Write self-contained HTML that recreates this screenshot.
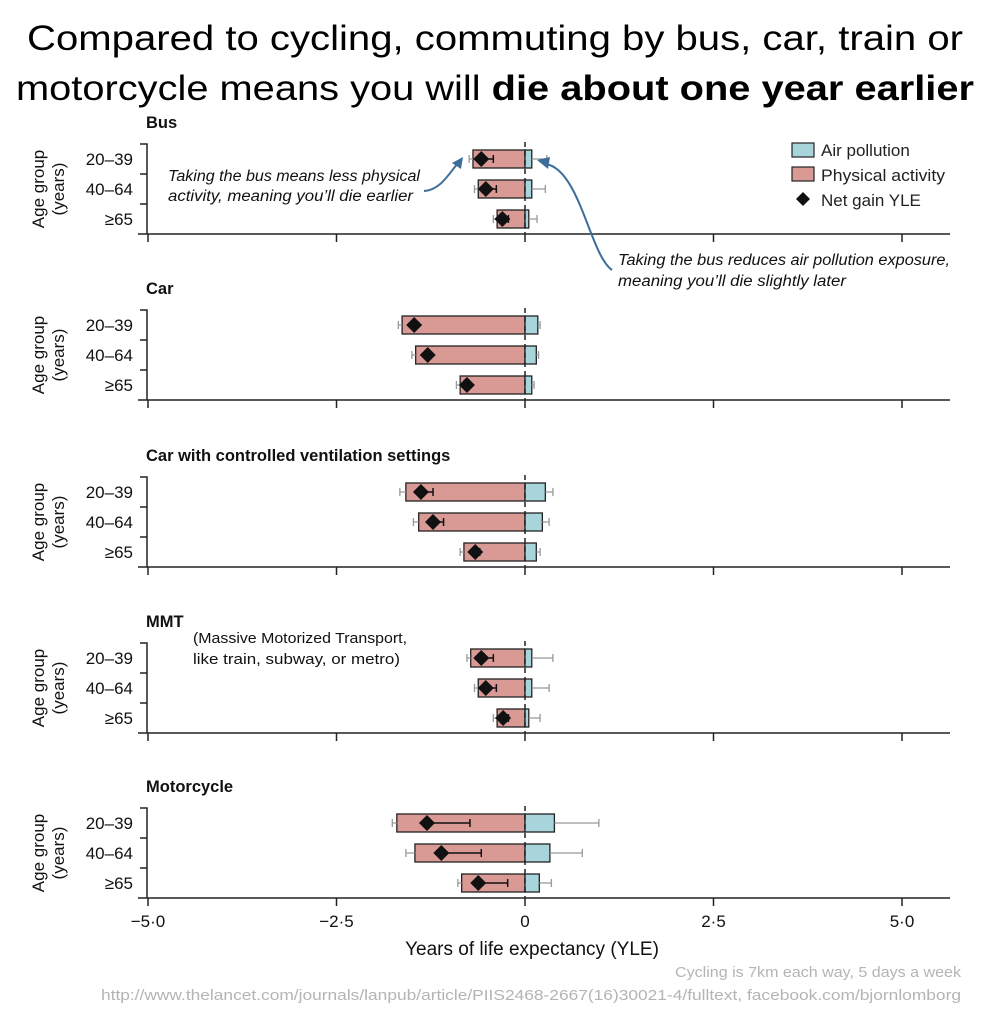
<!DOCTYPE html>
<html><head><meta charset="utf-8"><style>
html,body{margin:0;padding:0;background:#fff;}
svg{display:block;font-family:"Liberation Sans",sans-serif;}
</style></head><body>
<svg id="chart" width="993" height="1017" viewBox="0 0 993 1017" xmlns="http://www.w3.org/2000/svg">
<text x="495" y="50" text-anchor="middle" font-size="35" textLength="936" lengthAdjust="spacingAndGlyphs">Compared to cycling, commuting by bus, car, train or</text>
<text x="495" y="100" text-anchor="middle" font-size="35" textLength="958" lengthAdjust="spacingAndGlyphs">motorcycle means you will <tspan font-weight="bold">die about one year earlier</tspan></text>
<g id="panels"></g>
<g>
<rect x="792" y="143" width="22" height="14" fill="#a8d5dc" stroke="#222" stroke-width="1.2"/>
<text x="821" y="156" font-size="17" fill="#222">Air pollution</text>
<rect x="792" y="167" width="22" height="14" fill="#d99a96" stroke="#222" stroke-width="1.2"/>
<text x="821" y="181" font-size="17" fill="#222" textLength="124" lengthAdjust="spacingAndGlyphs">Physical activity</text>
<polygon points="803,192 810,199 803,206 796,199" fill="#111"/>
<text x="821" y="206" font-size="17" fill="#222">Net gain YLE</text>
</g>
<text font-size="15.5" font-style="italic" fill="#111"><tspan x="168" y="181" textLength="252" lengthAdjust="spacingAndGlyphs">Taking the bus means less physical</tspan><tspan x="168" y="201" textLength="245" lengthAdjust="spacingAndGlyphs">activity, meaning you’ll die earlier</tspan></text>
<path d="M424,191 C440,190 448,175 458,163" fill="none" stroke="#3d6e9a" stroke-width="2"/>
<polygon points="463,157 461,169 452,163" fill="#3d6e9a"/>
<text font-size="15.5" font-style="italic" fill="#111"><tspan x="618" y="265" textLength="332" lengthAdjust="spacingAndGlyphs">Taking the bus reduces air pollution exposure,</tspan><tspan x="618" y="286" textLength="228" lengthAdjust="spacingAndGlyphs">meaning you’ll die slightly later</tspan></text>
<path d="M612,270 C590,255 580,170 546,164" fill="none" stroke="#3d6e9a" stroke-width="2"/>
<polygon points="537,160 550,157 548,169" fill="#3d6e9a"/>
<text font-size="15" fill="#111"><tspan x="193" y="643" textLength="214" lengthAdjust="spacingAndGlyphs">(Massive Motorized Transport,</tspan><tspan x="193" y="664" textLength="207" lengthAdjust="spacingAndGlyphs">like train, subway, or metro)</tspan></text>
<text x="532" y="955" text-anchor="middle" font-size="19" fill="#111">Years of life expectancy (YLE)</text>
<text x="961" y="977" text-anchor="end" font-size="15" fill="#b4b4b4" textLength="286" lengthAdjust="spacingAndGlyphs">Cycling is 7km each way, 5 days a week</text>
<text x="961" y="1000" text-anchor="end" font-size="15" fill="#b4b4b4" textLength="860" lengthAdjust="spacingAndGlyphs">http://www.thelancet.com/journals/lanpub/article/PIIS2468-2667(16)30021-4/fulltext, facebook.com/bjornlomborg</text>
</svg>
<script>
const panelNames = ["Bus","Car","Car with controlled ventilation settings","MMT","Motorcycle"];
const ageGroups = ["20–39","40–64","≥65"];
const physActivity = [[-0.69,-0.62,-0.37],[-1.63,-1.45,-0.86],[-1.58,-1.41,-0.81],[-0.72,-0.62,-0.37],[-1.70,-1.46,-0.84]];
const physErr = [[0.05,0.05,0.05],[0.05,0.05,0.05],[0.08,0.07,0.05],[0.05,0.05,0.05],[0.06,0.12,0.05]];
const airPollution = [[0.09,0.09,0.05],[0.17,0.15,0.09],[0.27,0.23,0.15],[0.09,0.09,0.05],[0.39,0.33,0.19]];
const airErrHi = [[0.29,0.27,0.16],[0.2,0.18,0.12],[0.37,0.32,0.2],[0.37,0.32,0.2],[0.98,0.76,0.35]];
const netGain = [[-0.58,-0.52,-0.30],[-1.47,-1.29,-0.77],[-1.38,-1.22,-0.66],[-0.58,-0.52,-0.29],[-1.30,-1.11,-0.62]];
const netHi = [[-0.42,-0.38,-0.22],[-1.45,-1.27,-0.74],[-1.22,-1.08,-0.6],[-0.42,-0.38,-0.22],[-0.73,-0.58,-0.23]];
const xTicks = [-5,-2.5,0,2.5,5];
const xTickLabels = ["−5·0","−2·5","0","2·5","5·0"];

const NS="http://www.w3.org/2000/svg";
const X0=148, X1=902;
function xs(v){return X0+(v+5)/10*(X1-X0);}
const axisY=[234,400,567,733,898];
const g=document.getElementById('panels');
function mk(tag,attrs,parent){const e=document.createElementNS(NS,tag);for(const k in attrs)e.setAttribute(k,attrs[k]);(parent||g).appendChild(e);return e;}

panelNames.forEach((name,p)=>{
  const ay=axisY[p];
  const pg=mk('g',{});
  
  
  const t=mk('text',{x:146,y:ay-106,'font-size':16.5,'font-weight':'bold',fill:'#111'},pg);t.textContent=name;
  
  
  const yt=mk('text',{transform:`translate(44,${ay-45}) rotate(-90)`,'text-anchor':'middle','font-size':17,fill:'#111'},pg);
  
  
  const a1=mk('tspan',{x:0,dy:0},yt);a1.textContent='Age group';
  const a2=mk('tspan',{x:0,dy:20},yt);a2.textContent='(years)';
  const yl=mk('path',{d:`M140,${ay-90} H147 V${ay} M140,${ay-60} H147 M140,${ay-30} H147`,stroke:'#222','stroke-width':1.5,fill:'none'},pg);
  
  
  const xl=mk('line',{x1:138,x2:950,y1:ay,y2:ay,stroke:'#222','stroke-width':1.5},pg);
  
  
  xTicks.forEach((v,i)=>{
    const tk=mk('line',{x1:xs(v),x2:xs(v),y1:ay,y2:ay+8,stroke:'#222','stroke-width':1.5},pg);
    
    
    if(p===4){const tl=mk('text',{x:xs(v),y:ay+29,'text-anchor':'middle','font-size':17,fill:'#111'},pg);tl.textContent=xTickLabels[i];
      
      }
  });
  ageGroups.forEach((ag,r)=>{
    const cy=ay-75+r*30;
    const lab=mk('text',{x:133,y:cy+6,'text-anchor':'end','font-size':17,fill:'#111'},pg);lab.textContent=ag;
    
    
    const pa=physActivity[p][r], ap=airPollution[p][r];
    const rb=mk('rect',{x:xs(pa),y:cy-9,width:xs(0)-xs(pa),height:18,fill:'#d99a96',stroke:'#222','stroke-width':1.3},pg);
    
    
    const ab=mk('rect',{x:xs(0),y:cy-9,width:xs(ap)-xs(0),height:18,fill:'#a8d5dc',stroke:'#222','stroke-width':1.3},pg);
    
    
    const ae=mk('path',{d:`M${xs(ap)},${cy} H${xs(airErrHi[p][r])} M${xs(airErrHi[p][r])},${cy-4} V${cy+4}`,stroke:'#999','stroke-width':1.3,fill:'none'},pg);
    
    
    const pl=xs(pa-physErr[p][r]);
    const pe=mk('path',{d:`M${xs(pa)},${cy} H${pl} M${pl},${cy-4} V${cy+4}`,stroke:'#999','stroke-width':1.3,fill:'none'},pg);
    
    
    const nx=xs(netGain[p][r]), nh=xs(netHi[p][r]);
    const ne=mk('path',{d:`M${nx},${cy} H${nh} M${nh},${cy-4} V${cy+4}`,stroke:'#111','stroke-width':1.5,fill:'none'},pg);
    
    
    const d=mk('polygon',{points:`${nx},${cy-8} ${nx+8},${cy} ${nx},${cy+8} ${nx-8},${cy}`,fill:'#111'},pg);
    
    
  });
  const dl=mk('line',{x1:xs(0),x2:xs(0),y1:ay-92,y2:ay,stroke:'#222','stroke-width':1.5,'stroke-dasharray':'5,4'},pg);
  
  
});
</script>
</body></html>
